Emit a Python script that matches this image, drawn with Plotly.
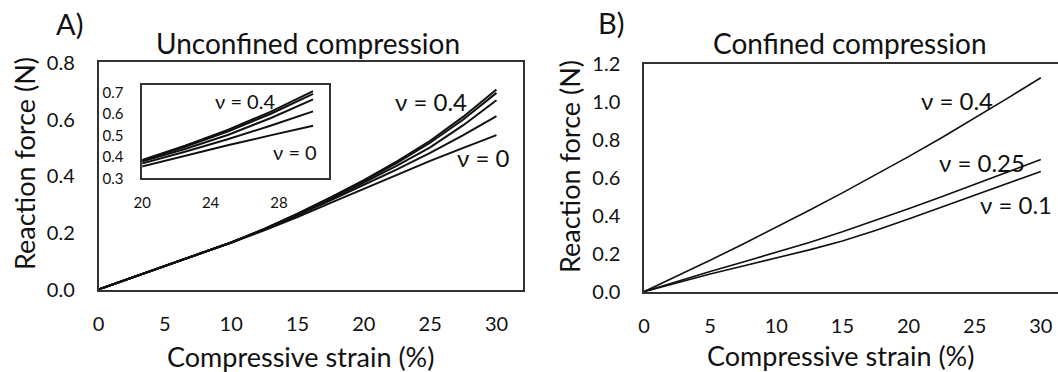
import plotly.graph_objects as go

# ---------------- data ----------------
strain = [0, 2.5, 5, 7.5, 10, 12.5, 15, 17.5, 20, 22.5, 25, 27.5, 30]

# A) Unconfined compression, reaction force (N) for several Poisson ratios
unconf_nu_0 = [0, 0.041, 0.084, 0.125, 0.165, 0.209, 0.256, 0.306, 0.356, 0.405, 0.454, 0.500, 0.545]
unconf_nu_1 = [0, 0.041, 0.084, 0.125, 0.166, 0.212, 0.262, 0.315, 0.369, 0.424, 0.482, 0.545, 0.612]
unconf_nu_2 = [0, 0.041, 0.084, 0.125, 0.166, 0.213, 0.265, 0.320, 0.377, 0.437, 0.502, 0.580, 0.668]
unconf_nu_3 = [0, 0.041, 0.084, 0.125, 0.166, 0.214, 0.267, 0.324, 0.383, 0.447, 0.518, 0.600, 0.694]
unconf_nu_4 = [0, 0.041, 0.084, 0.125, 0.166, 0.214, 0.268, 0.325, 0.386, 0.452, 0.525, 0.610, 0.706]
unconf_series = [unconf_nu_0, unconf_nu_1, unconf_nu_2, unconf_nu_3, unconf_nu_4]

# B) Confined compression
conf_nu_01 = [0, 0.048, 0.093, 0.136, 0.178, 0.221, 0.268, 0.323, 0.384, 0.446, 0.509, 0.572, 0.635]
conf_nu_025 = [0, 0.055, 0.107, 0.157, 0.207, 0.260, 0.316, 0.376, 0.438, 0.501, 0.566, 0.632, 0.698]
conf_nu_04 = [0, 0.082, 0.166, 0.252, 0.340, 0.430, 0.522, 0.616, 0.713, 0.813, 0.916, 1.022, 1.130]
conf_series = [conf_nu_01, conf_nu_025, conf_nu_04]

x_ticks = [0, 5, 10, 15, 20, 25, 30]
yA_ticks = [0, 0.2, 0.4, 0.6, 0.8]
yB_ticks = [0, 0.2, 0.4, 0.6, 0.8, 1.0, 1.2]
inset_x_ticks = [20, 24, 28]
inset_y_ticks = [0.3, 0.4, 0.5, 0.6, 0.7]

# ---------------- layout helpers ----------------
W, H = 1058, 372
def px(x):
    return x / W
def py(y):
    return 1 - y / H

FONT = "Lato, 'Open Sans', sans-serif"
LINE = "#111111"
AX = "#333333"

fig = go.Figure()

for s in unconf_series:
    fig.add_trace(go.Scatter(x=strain, y=s, mode="lines", line=dict(color=LINE, width=2),
                             xaxis="x", yaxis="y", showlegend=False))
for s in conf_series:
    fig.add_trace(go.Scatter(x=strain, y=s, mode="lines", line=dict(color=LINE, width=1.6),
                             xaxis="x2", yaxis="y2", showlegend=False))
for s in unconf_series:
    fig.add_trace(go.Scatter(x=strain, y=s, mode="lines", line=dict(color=LINE, width=2),
                             xaxis="x3", yaxis="y3", showlegend=False))

common = dict(showgrid=False, zeroline=False, showline=True, linecolor=AX, linewidth=1.5,
              ticks="", automargin=False, tickfont=dict(family=FONT, size=20, color="#111"))
small = {**common, "tickfont": dict(family=FONT, size=15, color="#111")}

fig.update_layout(
    template="none",
    width=W, height=H,
    margin=dict(l=0, r=0, t=0, b=0, pad=0),
    paper_bgcolor="white", plot_bgcolor="white",
    font=dict(family=FONT, color="#111"),
    xaxis=dict(domain=[px(98.5), px(523)], range=[0, 32], tickvals=x_ticks, mirror=True,
               ticklabelstandoff=16, anchor="y", **common),
    yaxis=dict(domain=[py(289.5), py(62)], range=[0, 0.803], tickvals=yA_ticks, tickformat=".1f",
               mirror=True, ticklabelstandoff=18, anchor="x", **common),
    xaxis2=dict(domain=[px(644), 1], range=[0, 31.3], tickvals=x_ticks, mirror=True,
                ticklabelstandoff=16, anchor="y2", **common),
    yaxis2=dict(domain=[py(291.7), py(63.5)], range=[0, 1.205], tickvals=yB_ticks, tickformat=".1f",
                mirror=False, ticklabelstandoff=18, anchor="x2", **common),
    xaxis3=dict(domain=[px(142.3), px(329.3)], range=[20, 30.95], tickvals=inset_x_ticks, mirror=True,
                ticklabelstandoff=10, anchor="y3", **small),
    yaxis3=dict(domain=[py(178.3), py(85)], range=[0.3, 0.735], tickvals=inset_y_ticks, tickformat=".1f",
                mirror=True, ticklabelstandoff=14, anchor="x3", **small),
)

def label(text, x, y, size, angle=0):
    fig.add_annotation(text=text, x=px(x), y=py(y), xref="paper", yref="paper",
                       xanchor="center", yanchor="middle", showarrow=False, textangle=angle,
                       font=dict(family=FONT, size=size, color="#111"))

label("A)", 69, 24, 29)
label("B)", 611, 23, 29)
label("Unconfined compression", 307.5, 43, 28)
label("Confined compression", 850, 43, 28)
label("Compressive strain (%)", 300, 356, 27)
label("Compressive strain (%)", 840.5, 355, 27)
label("Reaction force (N)", 24, 164, 27, angle=-90)
label("Reaction force (N)", 569, 167, 27, angle=-90)

label("ν = 0.4", 431, 102, 24)
label("ν = 0", 483, 157, 24)
label("ν = 0.4", 245, 101, 20)
label("ν = 0", 295, 152, 20)
label("ν = 0.4", 957, 100, 24)
label("ν = 0.25", 982, 162, 24)
label("ν = 0.1", 1016, 205, 24)

fig.write_html("out.html", config={"displayModeBar": False},
               post_script="document.body.style.margin='0';document.body.style.overflow='hidden';")
